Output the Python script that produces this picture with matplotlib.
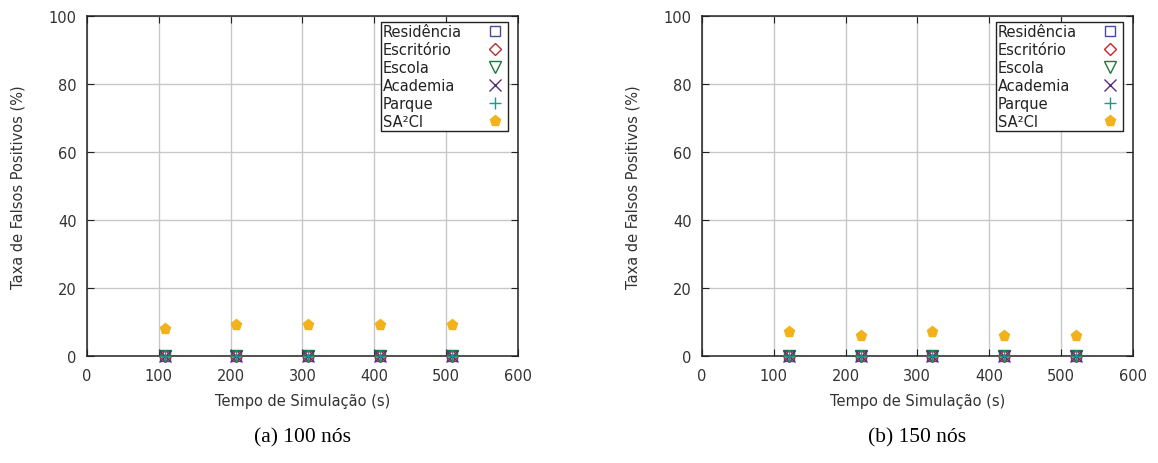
import matplotlib
matplotlib.use("Agg")
import matplotlib.pyplot as plt

plt.rcParams["font.family"] = ["DejaVu Sans"]

# Data
series_names = ["Residência", "Escritório", "Escola", "Academia", "Parque", "SA²CI"]
x_a = [108, 208, 308, 408, 508]
x_b = [121, 221, 321, 421, 521]
residencia_a = [0, 0, 0, 0, 0]
escritorio_a = [0, 0, 0, 0, 0]
escola_a = [0, 0, 0, 0, 0]
academia_a = [0, 0, 0, 0, 0]
parque_a = [0, 0, 0, 0, 0]
sa2ci_a = [8, 9, 9, 9, 9]
residencia_b = [0, 0, 0, 0, 0]
escritorio_b = [0, 0, 0, 0, 0]
escola_b = [0, 0, 0, 0, 0]
academia_b = [0, 0, 0, 0, 0]
parque_b = [0, 0, 0, 0, 0]
sa2ci_b = [7, 6, 7, 6, 6]
captions = ["(a) 100 nós", "(b) 150 nós"]
xticks = [0, 100, 200, 300, 400, 500, 600]
yticks = [0, 20, 40, 60, 80, 100]

styles = [
    dict(marker="s", mfc="none", mec="#4a4a9c", ms=7, mew=1.0),
    dict(marker="D", mfc="none", mec="#c0282a", ms=6, mew=1.0),
    dict(marker="v", mfc="none", mec="#1e7a3c", ms=8, mew=1.0),
    dict(marker="x", mfc="none", mec="#5a2d7a", ms=8, mew=1.0),
    dict(marker="+", mfc="none", mec="#1a9a8c", ms=9, mew=1.0),
    dict(marker="p", mfc="#f2b21c", mec="#f2b21c", ms=8, mew=1.0),
]

fig = plt.figure(figsize=(11.58, 4.64), dpi=100)
axes_pos = [[0.0751, 0.2306, 0.3722, 0.7328], [0.6062, 0.2306, 0.3720, 0.7328]]
datasets = [
    (x_a, [residencia_a, escritorio_a, escola_a, academia_a, parque_a, sa2ci_a]),
    (x_b, [residencia_b, escritorio_b, escola_b, academia_b, parque_b, sa2ci_b]),
]

legends = []
for pos, (xs, ys_list), cap in zip(axes_pos, datasets, captions):
    ax = fig.add_axes(pos)
    for name, ys, st in zip(series_names, ys_list, styles):
        ax.plot(xs, ys, linestyle="none", label=name, clip_on=False, zorder=3, **st)
    ax.set_xlim(0, 600)
    ax.set_ylim(0, 100)
    ax.set_xticks(xticks)
    ax.set_yticks(yticks)
    ax.grid(True, color="#c8c8c8", linewidth=1.0)
    ax.set_axisbelow(True)
    ax.tick_params(direction="in", length=5, top=True, right=True, labelsize=10.5,
                   colors="#222222", labelcolor="#333333")
    ax.tick_params(axis="x", pad=8.5)
    ax.tick_params(axis="y", pad=7.5)
    for s in ax.spines.values():
        s.set_color("#222222")
        s.set_linewidth(1.1)
    ax.set_xlabel("Tempo de Simulação (s)", fontsize=10.5, color="#333333", labelpad=7)
    ax.set_ylabel("Taxa de Falsos Positivos (%)", fontsize=10.5, color="#333333", labelpad=16.5)
    leg = ax.legend(loc="upper right", bbox_to_anchor=(1 - 10 / 431, 1 - 6 / 340),
                    borderaxespad=0, markerfirst=False, fontsize=10.5, fancybox=False,
                    framealpha=1, edgecolor="#222222", labelspacing=0.2,
                    handlelength=1.5, handletextpad=1.5, borderpad=0.15)
    leg.get_frame().set_linewidth(1.0)
    for t in leg.get_texts():
        t.set_color("#222222")
    legends.append(leg)
    ax.text(0.5, -0.21, cap, transform=ax.transAxes, ha="center", va="top",
            fontsize=15.5, family="Liberation Serif")

# left-align legend texts while keeping markers in a right column
fig.canvas.draw()
r = fig.canvas.get_renderer()
for leg in legends:
    col = leg._legend_handle_box.get_children()[0]
    col.align = "left"
    rows = col.get_children()
    widths = [row.get_bbox(r).width for row in rows]
    wmax = max(widths)
    for row in rows:
        row.mode = "expand"
        row.width = wmax

fig.savefig("out.png", dpi=100)
